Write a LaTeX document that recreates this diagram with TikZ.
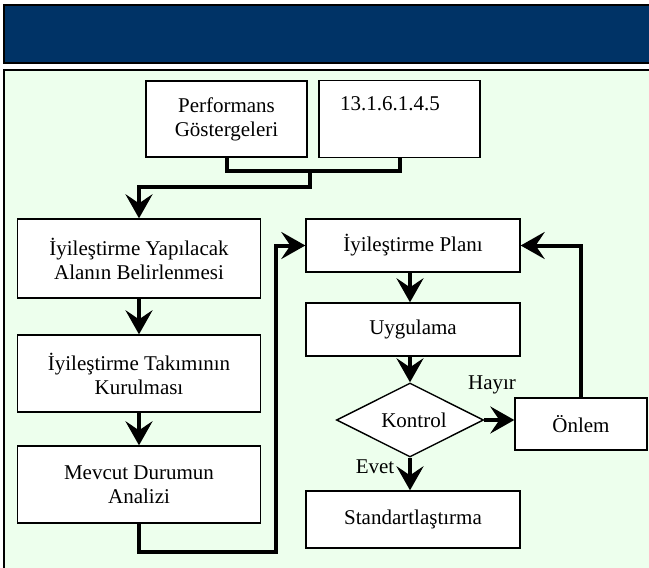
\documentclass[tikz,border=0pt]{standalone}
\usepackage{fontspec}
\setmainfont{Liberation Serif}
\usetikzlibrary{shapes.geometric,arrows.meta,calc}
\definecolor{headblue}{RGB}{0,51,102}
\definecolor{panelgreen}{RGB}{237,255,237}
\begin{document}
\begin{tikzpicture}[x=1pt,y=-1pt,
  stepbox/.style={draw=black,line width=1.4pt,fill=white,rectangle,inner sep=0pt,
    align=center,font=\fontsize{21}{24}\selectfont},
  decision/.style={draw=black,line width=1.4pt,fill=white,diamond,aspect=2,inner sep=0pt,
    minimum width=147pt,minimum height=74pt,font=\fontsize{21}{24}\selectfont},
  tag/.style={inner sep=0pt,font=\fontsize{21}{24}\selectfont},
  conn/.style={line width=4pt},
  flow/.style={line width=4pt,-{Stealth[length=24pt,width=27pt,inset=9pt]}}]
\useasboundingbox (0,0) rectangle (649,568);

% title band and panel
\fill[white] (0,0) rectangle (649,568);
\draw[line width=2pt,fill=headblue] (4,5) rectangle (660,63);
\draw[line width=2pt,fill=panelgreen] (4,70) rectangle (660,580);

% top inputs
\node[stepbox,minimum width=161pt,minimum height=76pt] (perf) at (226.5,119)
  {Performans\\Göstergeleri};
\node[stepbox,minimum width=161pt,minimum height=77pt] (code) at (399.5,119) {};
\node[tag,anchor=west] (codetxt) at (340,104) {13.1.6.1.4.5};

% left column
\node[stepbox,minimum width=243pt,minimum height=79pt] (b1) at (139,258.5)
  {İyileştirme Yapılacak\\Alanın Belirlenmesi};
\node[stepbox,minimum width=243pt,minimum height=77pt] (b2) at (139,373.5)
  {İyileştirme Takımının\\Kurulması};
\node[stepbox,minimum width=243pt,minimum height=77pt] (b3) at (139,484.5)
  {Mevcut Durumun\\Analizi};

% right column
\node[stepbox,minimum width=214pt,minimum height=53pt] (plan) at (413,245.5)
  {İyileştirme Planı};
\node[stepbox,minimum width=214pt,minimum height=53pt] (uyg) at (413,329.5)
  {Uygulama};
\node[decision] (dia) at (410,420) {};
\node[tag] (kontrol) at (414,420) {Kontrol};
\node[stepbox,minimum width=132pt,minimum height=52pt] (onlem) at (581,424)
  {Önlem};
\node[stepbox,minimum width=214pt,minimum height=57pt] (std) at (413,519.5)
  {Standartlaştırma};

\node[tag] (hayir) at (492,385) {Hayır};
\node[tag] (evet) at (375,467) {Evet};

% connectors
\coordinate (j) at (310,171);
\coordinate (j2) at (310,187);
\coordinate (loopx) at (276,552);
\draw[conn] (perf.south) |- (j) -| (code.south);
\draw[flow] (j) -- (j2) -| (b1.north);
\draw[flow] (b1.south) -- (b2.north);
\draw[flow] (b2.south) -- (b3.north);
\draw[flow] (b3.south) |- (loopx) |- (plan.west);
\draw[flow] (plan.south -| dia.north) -- (uyg.north -| dia.north);
\draw[flow] (uyg.south -| dia.north) -- (dia.north);
\draw[flow] (dia.east) -- (dia.east -| onlem.west);
\draw[flow] (onlem.north) |- (plan.east);
\draw[flow] (dia.south) -- (dia.south |- std.north);
\end{tikzpicture}
\end{document}
